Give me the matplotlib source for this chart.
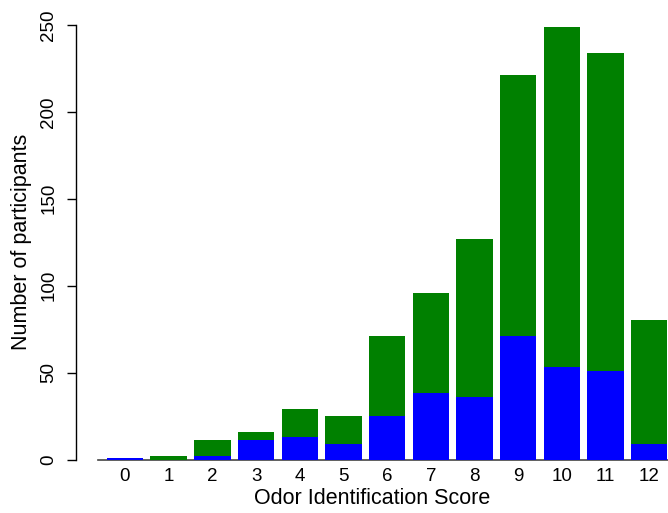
import matplotlib
matplotlib.use('Agg')
from matplotlib import pyplot as plt

# scores 0..12, participants split in two groups (blue stacked under green)
scores = list(range(13))
blue_counts = [1, 0, 2, 11, 13, 9, 25, 38, 36, 71, 53, 51, 9]
totals = [1, 2, 11, 16, 29, 25, 71, 96, 127, 221, 249, 234, 80]
green_counts = [t - b for t, b in zip(totals, blue_counts)]

plt.rcParams['font.family'] = ['Liberation Sans', 'DejaVu Sans']

fig = plt.figure(figsize=(6.68, 5.13), dpi=100)
ax = fig.add_axes([76 / 668, (513 - 459.5) / 513, 1 - 76 / 668, (459.5 - 25) / 513])

w = 1 / 1.2
ax.bar(scores, blue_counts, width=w, color='#0000FF', linewidth=0)
ax.bar(scores, green_counts, width=w, bottom=blue_counts, color='#008000', linewidth=0)

# baseline under the bars, R barplot style
ax.plot([-0.62, 12.5], [0, 0], color='#444444', lw=1.2, clip_on=False, zorder=0.5)

ax.set_xlim(-1.121, 12.43)
ax.set_ylim(0, 250)

for s in ['top', 'right', 'bottom']:
    ax.spines[s].set_visible(False)
ax.spines['left'].set_bounds(0, 250)
ax.spines['left'].set_linewidth(1.0)

ax.set_yticks([0, 50, 100, 150, 200, 250])
ax.set_yticklabels(['0', '50', '100', '150', '200', '250'], rotation=90, va='center')
ax.tick_params(axis='y', length=6.5, width=1.0, pad=7, labelsize=13.5)
ax.set_xticks(scores)
ax.set_xticklabels([str(s) for s in scores])
ax.tick_params(axis='x', length=0, pad=6, labelsize=13.5)

ax.set_xlabel('Odor Identification Score', fontsize=15.5, labelpad=2)
ax.set_ylabel('Number of participants', fontsize=15.5, labelpad=6)

fig.savefig('out.png', dpi=100)
